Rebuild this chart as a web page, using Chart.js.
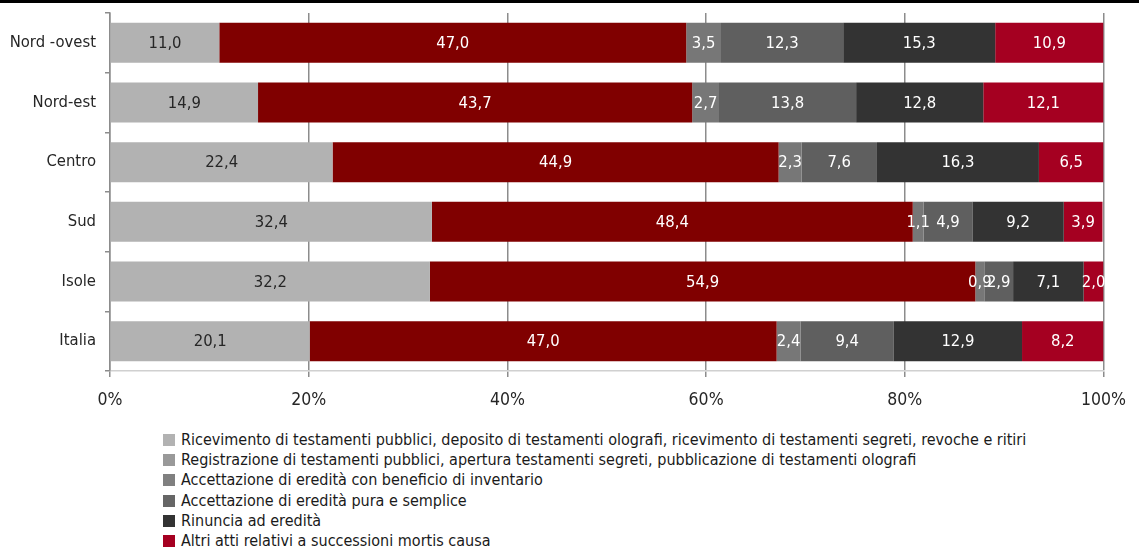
<!DOCTYPE html>
<html lang="it">
<head>
<meta charset="utf-8">
<title>Atti relativi a successioni mortis causa per ripartizione</title>
<script src="https://cdn.jsdelivr.net/npm/chart.js@4/dist/chart.umd.min.js"></script>
<style>
    body { margin: 0; background: #fff; font-family: 'DejaVu Sans Condensed', 'DejaVu Sans', sans-serif; }
    .wrap { position: relative; width: 1139px; height: 548px; overflow: hidden; }
    .top-rule { position: absolute; left: 0; top: 0; width: 1139px; height: 3px; background: #000; }
    .chart-box { position: absolute; left: 0; top: 0; width: 1139px; height: 425px; }
    .legend { position: absolute; left: 163px; top: 430px; margin: 0; padding: 0; list-style: none; }
    .legend li { height: 20.2px; line-height: 20px; font-size: 16px; color: #1a1a1a; white-space: nowrap; }
    .legend span { display: inline-block; width: 12px; height: 12px; margin-right: 6px; vertical-align: -1px; }
</style>
</head>
<body>
<div class="wrap">
    <div class="chart-box"><canvas id="successioniChart" width="1139" height="425"></canvas></div>
    <div class="top-rule"></div>
    <ul class="legend" id="legenda"></ul>
</div>
<script>
// Ripartizioni territoriali
const ripartizioni = ['Nord -ovest', 'Nord-est', 'Centro', 'Sud', 'Isole', 'Italia'];

// Composizione percentuale degli atti
const ricevimento = [11.0, 14.9, 22.4, 32.4, 32.2, 20.1];
const registrazione = [47.0, 43.7, 44.9, 48.4, 54.9, 47.0];
const beneficioInventario = [3.5, 2.7, 2.3, 1.1, 0.9, 2.4];
const puraSemplice = [12.3, 13.8, 7.6, 4.9, 2.9, 9.4];
const rinuncia = [15.3, 12.8, 16.3, 9.2, 7.1, 12.9];
const altriAtti = [10.9, 12.1, 6.5, 3.9, 2.0, 8.2];

const etichetteSerie = [
    'Ricevimento di testamenti pubblici, deposito di testamenti olografi, ricevimento di testamenti segreti, revoche e ritiri',
    'Registrazione di testamenti pubblici, apertura testamenti segreti, pubblicazione di testamenti olografi',
    'Accettazione di eredità con beneficio di inventario',
    'Accettazione di eredità pura e semplice',
    'Rinuncia ad eredità',
    'Altri atti relativi a successioni mortis causa'
];
const valoriSerie = [ricevimento, registrazione, beneficioInventario, puraSemplice, rinuncia, altriAtti];
const tickPercentuali = ['0%', '20%', '40%', '60%', '80%', '100%'];

const coloriBarre = ['#b2b2b2', '#800000', '#777777', '#5f5f5f', '#333333', '#a50021'];
const coloriLegenda = ['#b2b2b2', '#999999', '#808080', '#666666', '#333333', '#a50021'];
const coloriTesto = ['#262626', '#ffffff', '#ffffff', '#ffffff', '#ffffff', '#ffffff'];

const FONT = "'DejaVu Sans Condensed', 'DejaVu Sans', sans-serif";

// Etichette dei valori al centro di ogni segmento
const etichetteValori = {
    id: 'etichetteValori',
    afterDatasetsDraw(chart) {
        const ctx = chart.ctx;
        ctx.save();
        ctx.font = '16.5px ' + FONT;
        ctx.textAlign = 'center';
        ctx.textBaseline = 'middle';
        chart.data.datasets.forEach((ds, i) => {
            chart.getDatasetMeta(i).data.forEach((bar, j) => {
                const v = ds.data[j];
                ctx.fillStyle = coloriTesto[i];
                ctx.fillText(v.toFixed(1).replace('.', ','), (bar.x + bar.base) / 2, bar.y + 1);
            });
        });
        ctx.restore();
    }
};

document.addEventListener('DOMContentLoaded', function () {
    const canvas = document.getElementById('successioniChart');

    new Chart(canvas, {
        type: 'bar',
        data: {
            labels: ripartizioni,
            datasets: valoriSerie.map((valori, i) => ({
                label: etichetteSerie[i],
                data: valori,
                backgroundColor: coloriBarre[i],
                borderWidth: 0,
                categoryPercentage: 1,
                barPercentage: 0.67
            }))
        },
        options: {
            indexAxis: 'y',
            responsive: false,
            animation: false,
            layout: { padding: { top: 13, right: 35, left: 0, bottom: 0 } },
            plugins: {
                legend: { display: false },
                tooltip: { enabled: false }
            },
            scales: {
                x: {
                    stacked: true,
                    min: 0,
                    max: 100,
                    afterFit: s => { s.height = 54; },
                    afterBuildTicks: s => { s.ticks = tickPercentuali.map(t => ({ value: parseInt(t, 10) })); },
                    ticks: {
                        callback: (v, i) => tickPercentuali[i],
                        font: { family: FONT, size: 17.5 },
                        color: '#262626',
                        padding: 13,
                        maxRotation: 0
                    },
                    grid: { color: '#8c8c8c', lineWidth: 1.5, tickLength: 6, tickColor: '#8c8c8c' },
                    border: { color: '#d0d0d0', width: 1.5 }
                },
                y: {
                    stacked: true,
                    // larghezza fissa e nessun margine extra sopra/sotto
                    afterFit: s => { s.width = 110; s.paddingTop = 0; s.paddingBottom = 0; },
                    ticks: {
                        font: { family: FONT, size: 16.5 },
                        color: '#262626',
                        padding: 9
                    },
                    grid: { drawOnChartArea: false, offset: true, tickLength: 5, color: '#8c8c8c', lineWidth: 1.5 },
                    border: { color: '#8c8c8c', width: 1.5 }
                }
            }
        },
        plugins: [etichetteValori]
    });

    // Legenda verticale sotto il grafico
    const legenda = document.getElementById('legenda');
    etichetteSerie.forEach((testo, i) => {
        const li = document.createElement('li');
        const box = document.createElement('span');
        box.style.background = coloriLegenda[i];
        li.appendChild(box);
        li.appendChild(document.createTextNode(testo));
        legenda.appendChild(li);
    });
});
</script>
</body>
</html>
